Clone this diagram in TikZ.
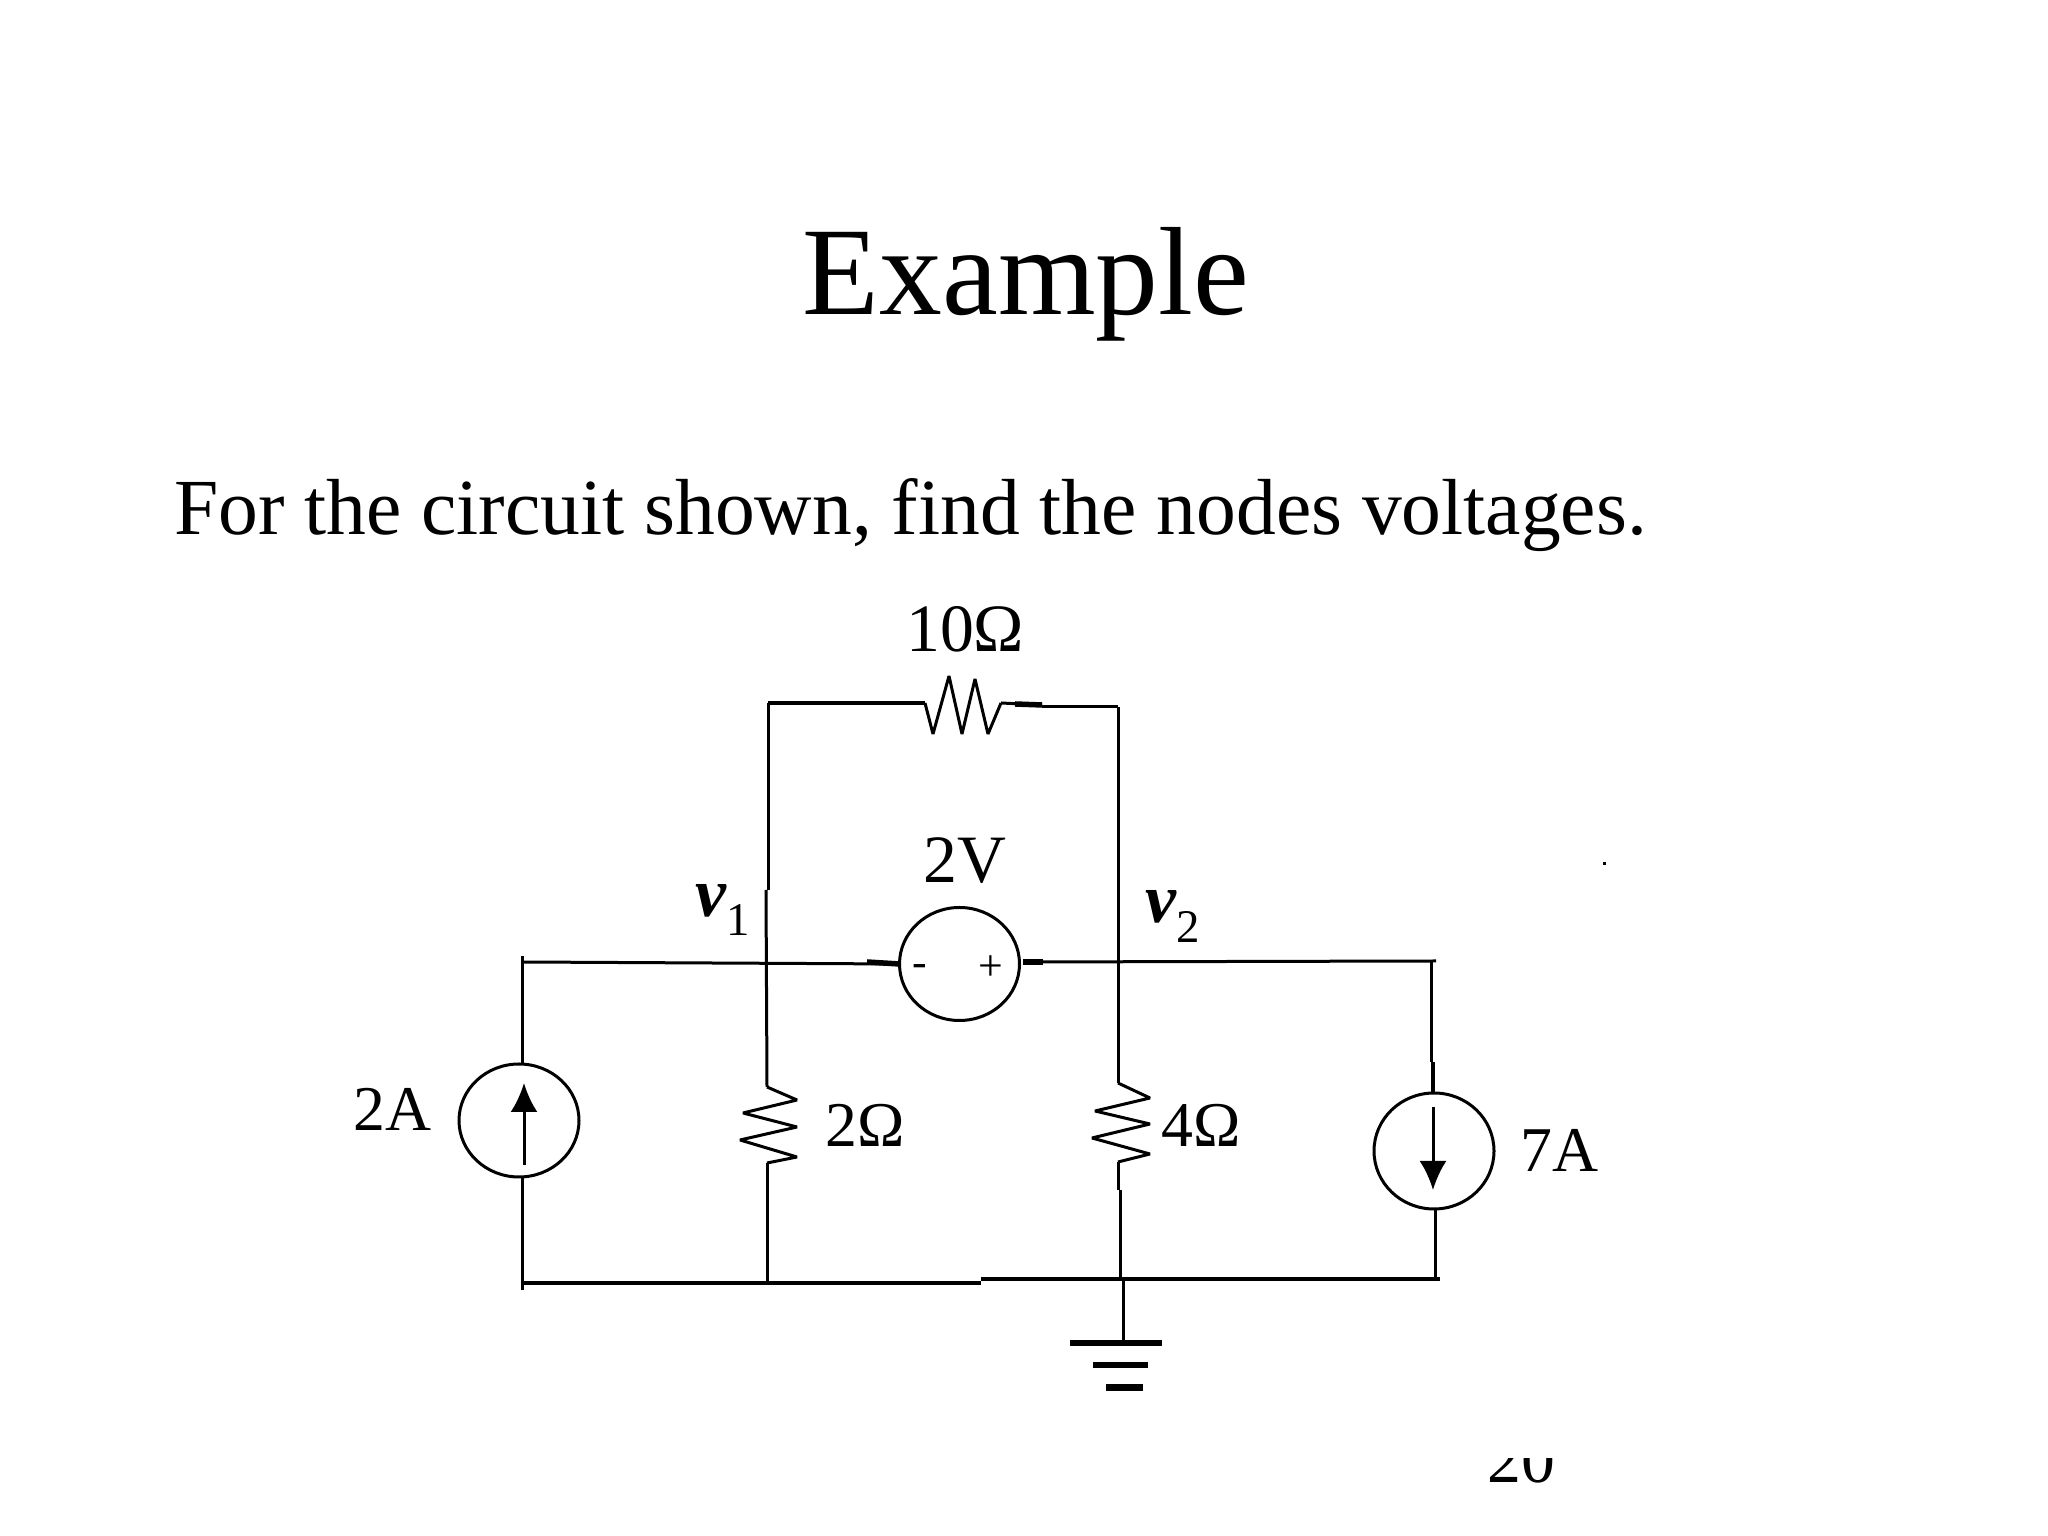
\documentclass[tikz,border=0pt]{standalone}
\usepackage{fontspec}
\setmainfont{Liberation Serif}
\usetikzlibrary{arrows.meta,shapes}
\tikzset{
  wire/.style={draw,line width=3bp},
  stub/.style={draw,line width=5.5bp},
  ring/.style={draw,ellipse,line width=3bp,inner sep=0pt,outer sep=0pt},
  lbl/.style={inner sep=0pt,anchor=base west,font=\fontsize{64}{70}\selectfont},
  biglbl/.style={lbl,font=\fontsize{68}{72}\selectfont},
}
\begin{document}
\begin{tikzpicture}[>={Latex[length=29bp,width=27bp]},line join=bevel]
\useasboundingbox (0bp,0bp) rectangle (2048bp,1536bp);
%%
\node (title) at (1026bp,1221bp) [inner sep=0pt,anchor=base,font=\fontsize{126}{130}\selectfont] {Example};
\node (task) at (174bp,1001bp) [inner sep=0pt,anchor=base west,font=\fontsize{79.8}{84}\selectfont] {For the circuit shown, find the nodes voltages.};
%
\node (Is1) at (519bp,415.5bp) [ring,minimum width=120bp,minimum height=113bp] {};
\node (Vs) at (959.5bp,572bp) [ring,minimum width=120bp,minimum height=113bp] {};
\node (Is2) at (1434bp,385bp) [ring,minimum width=120bp,minimum height=116bp] {};
\node (minus) at (920bp,565bp) [inner sep=0pt,font=\fontsize{44}{48}\selectfont] {-};
\node (plus) at (991bp,568bp) [inner sep=0pt,font=\fontsize{44}{48}\selectfont] {+};
\node (dot) at (1604bp,672bp) [fill=black,inner sep=0pt,minimum size=3bp] {};
%
\coordinate (tl) at (768bp,833bp);
\coordinate (tm) at (768bp,646bp);
\coordinate (lm) at (766bp,646bp);
\coordinate (r2a) at (767bp,449bp);
\coordinate (r2b) at (767bp,373bp);
\coordinate (b2) at (767bp,253bp);
\coordinate (r10a) at (925bp,833bp);
\coordinate (r10b) at (1001bp,833bp);
\coordinate (r10c) at (1042bp,831bp);
\coordinate (r10d) at (1042bp,829bp);
\coordinate (tr) at (1118bp,829bp);
\coordinate (r4a) at (1118bp,453bp);
\coordinate (r4b) at (1118bp,374bp);
\coordinate (r4c) at (1118bp,346bp);
\coordinate (r4d) at (1120bp,346bp);
\coordinate (b4) at (1120bp,257bp);
\coordinate (ml) at (522bp,574bp);
\coordinate (mlt) at (522bp,580bp);
\coordinate (mr) at (1436bp,575bp);
\coordinate (vl) at (867bp,574bp);
\coordinate (vrs) at (1023bp,574bp);
\coordinate (vre) at (1043bp,574bp);
\coordinate (rv) at (1431bp,575bp);
\coordinate (rj) at (1431bp,474bp);
\coordinate (rk) at (1433bp,474bp);
\coordinate (bl) at (522bp,253bp);
\coordinate (blb) at (522bp,246bp);
\coordinate (bm) at (981bp,253bp);
\coordinate (bn) at (981bp,257bp);
\coordinate (br) at (1440bp,257bp);
\coordinate (bv) at (1435bp,257bp);
\coordinate (gt) at (1123bp,257bp);
\coordinate (gb) at (1123bp,193bp);
\coordinate (g1a) at (1070bp,193bp);
\coordinate (g1b) at (1162bp,193bp);
\coordinate (g2a) at (1093bp,171bp);
\coordinate (g2b) at (1148bp,171bp);
\coordinate (g3a) at (1106bp,148bp);
\coordinate (g3b) at (1143bp,148bp);
\coordinate (a1a) at (524bp,371bp);
\coordinate (a1b) at (524bp,453bp);
\coordinate (a2a) at (1433bp,429bp);
\coordinate (a2b) at (1433bp,346bp);
%
\draw [wire,line width=3.2bp] (tl) -- (r10a);
\draw [wire] (tl) -- (tm);
\draw [wire] (lm) -- (r2a);
\draw [wire] (r2b) -- (b2);
\draw [wire] (r2a) -- (797bp,436bp) -- (743bp,423bp) -- (797bp,409bp) -- (740bp,396bp) -- (797bp,379bp) -- (r2b);
\draw [wire] (r10a) -- (933bp,802bp) -- (949bp,860bp) -- (962bp,802bp) -- (975bp,857bp) -- (988bp,802bp) -- (r10b);
\draw [wire] (r10b) -- (r10c);
\draw [stub] (1015bp,832bp) -- (r10c);
\draw [wire] (r10d) -- (tr);
\draw [wire] (tr) -- (r4a);
\draw [wire] (r4a) -- (1150bp,438bp) -- (1095bp,425bp) -- (1150bp,412bp) -- (1092bp,398bp) -- (1150bp,382bp) -- (r4b);
\draw [wire] (r4b) -- (r4c);
\draw [wire] (r4d) -- (b4);
\draw [wire,line width=3bp] (ml) -- (Vs.west);
\draw [stub] (vl) -- (Vs.west);
\draw [stub] (vrs) -- (vre);
\draw [wire,line width=3bp] (vrs) -- (mr);
\draw [wire] (mlt) -- (Is1.north -| mlt);
\draw [wire] (Is1.south -| mlt) -- (blb);
\draw [wire] (rv) -- (rj);
\draw [wire,line width=3.4bp] (rk) -- (Is2.north -| rk);
\draw [wire] (Is2.south -| bv) -- (bv);
\draw [wire,line width=3.4bp] (bl) -- (bm);
\draw [wire,line width=3.4bp] (bn) -- (br);
\draw [wire] (gt) -- (gb);
\draw [stub,line width=6bp] (g1a) -- (g1b);
\draw [stub,line width=6bp] (g2a) -- (g2b);
\draw [stub,line width=7bp] (g3a) -- (g3b);
\draw [->,wire] (a1a) -- (a1b);
\draw [->,wire] (a2a) -- (a2b);
%
\node (l10) at (906bp,884bp) [biglbl] {10Ω};
\node (l2v) at (923bp,653bp) [biglbl] {2V};
\node (l2a) at (353bp,405bp) [lbl] {2A};
\node (l2o) at (825bp,389bp) [lbl] {2Ω};
\node (l4o) at (1161bp,389bp) [lbl] {4Ω};
\node (l7a) at (1520bp,364bp) [lbl] {7A};
\node (v1) at (695bp,619bp) [lbl] {\fontsize{70}{70}\selectfont\textbf{\textit{v}}\raisebox{-19bp}{\fontsize{47}{50}\selectfont 1}};
\node (v2) at (1145bp,613bp) [lbl] {\fontsize{70}{70}\selectfont\textbf{\textit{v}}\raisebox{-20bp}{\fontsize{47}{50}\selectfont 2}};
%
\begin{scope}
\clip (1480bp,0bp) rectangle (1570bp,77bp);
\node (page) at (1487bp,53bp) [inner sep=0pt,anchor=base west,font=\fontsize{68}{70}\selectfont] {20};
\end{scope}
%
\end{tikzpicture}
\end{document}
